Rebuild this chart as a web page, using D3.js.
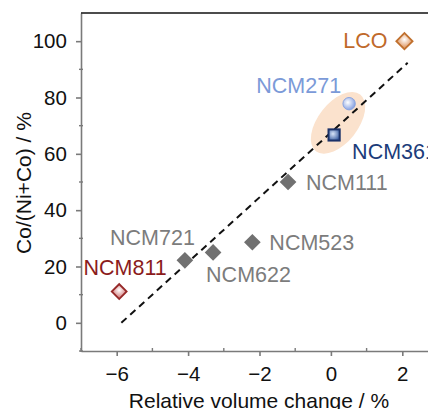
<!DOCTYPE html>
<html>
<head>
<meta charset="utf-8">
<script src="https://cdn.jsdelivr.net/npm/d3@7"></script>
<style>
    body { margin: 0; background: #fff; }
    svg { display: block; font-family: "Liberation Sans", Arial, sans-serif; }
    .axis path, .axis line { stroke: #7a7a7a; stroke-width: 1.6; }
    .axis text { font-size: 20.5px; fill: #111; }
</style>
</head>
<body>
<div class="chart"></div>
<script>
// materials, relative volume change (%) and Co/(Ni+Co) (%)
var names = ["LCO", "NCM271", "NCM361", "NCM111", "NCM523", "NCM622", "NCM721", "NCM811"];
var volChange = [2.06, 0.51, 0.09, -1.2, -2.2, -3.3, -4.09, -5.93];
var coRatio = [100, 77.8, 66.7, 50, 28.6, 25, 22.2, 11.1];

// dashed trend line ends
var fitX = [-5.87, 2.15];
var fitY = [0, 92.3];

// highlighted pair (ellipse centre)
var groupX = [0.2];
var groupY = [71];

var xTicks = [-6, -4, -2, 0, 2];
var xMinor = [-7, -5, -3, -1, 1, 3];
var yTicks = [0, 20, 40, 60, 80, 100];
var yMinor = [-10, 10, 30, 50, 70, 90];

function init() {
    var w = 428;
    var h = 409;
    var left = 81, top = 13, bottom = 351;

    var xScale = d3.scaleLinear().domain([-7, 3]).range([left, 438]);
    var yScale = d3.scaleLinear().domain([-10, 110]).range([bottom, top]);

    var svg = d3.select(".chart")
        .append("svg")
        .attr("width", w)
        .attr("height", h);

    var defs = svg.append("defs");
    function grad(id, inner, outer) {
        var g = defs.append("radialGradient").attr("id", id)
            .attr("cx", "40%").attr("cy", "40%").attr("r", "65%");
        g.append("stop").attr("offset", "0%").attr("stop-color", inner);
        g.append("stop").attr("offset", "100%").attr("stop-color", outer);
    }
    grad("gLCO", "#ffffff", "#e2a070");
    grad("g271", "#ffffff", "#7f9be0");
    grad("g361", "#d8e4f8", "#3a5da0");
    grad("g811", "#ffffff", "#d88a8a");

    // label style and placement
    var style = {
        "LCO":    { text: "#c0692a", mark: "diamond", size: 11.5, fill: "url(#gLCO)", stroke: "#c0702e", dx: -17, dy: 7, anchor: "end" },
        "NCM271": { text: "#7b9ad8", mark: "circle", fill: "url(#g271)", stroke: "#8aa4e0", dx: -8, dy: -11, anchor: "end" },
        "NCM361": { text: "#1c3c7a", mark: "square", fill: "url(#g361)", stroke: "#1b3168", dx: 18, dy: 24, anchor: "start" },
        "NCM111": { text: "#7c7c7c", mark: "diamond", size: 10, fill: "#717171", stroke: "#717171", dx: 18, dy: 8, anchor: "start" },
        "NCM523": { text: "#7c7c7c", mark: "diamond", size: 10, fill: "#717171", stroke: "#717171", dx: 17, dy: 8, anchor: "start" },
        "NCM622": { text: "#7c7c7c", mark: "diamond", size: 10, fill: "#717171", stroke: "#717171", dx: -7, dy: 30, anchor: "start" },
        "NCM721": { text: "#7c7c7c", mark: "diamond", size: 10, fill: "#717171", stroke: "#717171", dx: 10, dy: -15, anchor: "end" },
        "NCM811": { text: "#8b1c1c", mark: "diamond", size: 10.5, fill: "url(#g811)", stroke: "#962828", dx: 6, dy: -17, anchor: "middle" }
    };

    var dataset = names.map(function (n, i) {
        return { name: n, x: volChange[i], y: coRatio[i] };
    });

    // highlight ellipse
    svg.append("ellipse")
        .attr("cx", 0).attr("cy", 0)
        .attr("rx", 36).attr("ry", 20)
        .attr("transform", "translate(" + xScale(groupX[0]) + "," + yScale(groupY[0]) + ") rotate(-52)")
        .style("fill", "#fbe2cd");

    // dashed trend line
    var line = d3.line()
        .x(function (d) { return xScale(d[0]); })
        .y(function (d) { return yScale(d[1]); });
    svg.append("path")
        .datum(fitX.map(function (v, i) { return [v, fitY[i]]; }))
        .attr("d", line)
        .style("fill", "none")
        .style("stroke", "#111")
        .style("stroke-width", 2)
        .style("stroke-dasharray", "7,5");

    // axes
    var xAxis = d3.axisBottom(xScale).tickValues(xTicks).tickSize(5).tickSizeOuter(0)
        .tickFormat(function (d) { return d < 0 ? "\u2212" + Math.abs(d) : d; });
    var yAxis = d3.axisLeft(yScale).tickValues(yTicks).tickSize(5).tickSizeOuter(0);

    var gx = svg.append("g")
        .attr("class", "axis")
        .attr("transform", "translate(0," + bottom + ")")
        .call(xAxis);
    gx.selectAll("text").attr("dy", "1.05em");

    var gy = svg.append("g")
        .attr("class", "axis")
        .attr("transform", "translate(" + left + ",0)")
        .call(yAxis);
    gy.selectAll("text").attr("dx", "-0.3em");

    gx.selectAll(".minor").data(xMinor).enter().append("line")
        .attr("x1", function (d) { return xScale(d); })
        .attr("x2", function (d) { return xScale(d); })
        .attr("y1", -3).attr("y2", 1)
        .style("stroke", "#7a7a7a").style("stroke-width", 1.4);

    gy.selectAll(".minor").data(yMinor).enter().append("line")
        .attr("y1", function (d) { return yScale(d); })
        .attr("y2", function (d) { return yScale(d); })
        .attr("x1", -2).attr("x2", 2)
        .style("stroke", "#7a7a7a").style("stroke-width", 1.4);

    // top frame
    svg.append("line")
        .attr("x1", left).attr("x2", w)
        .attr("y1", top).attr("y2", top)
        .style("stroke", "#111").style("stroke-width", 1.6);

    // markers
    var pts = svg.selectAll(".pt").data(dataset).enter().append("g")
        .attr("transform", function (d) { return "translate(" + xScale(d.x) + "," + yScale(d.y) + ")"; });

    pts.each(function (d) {
        var s = style[d.name];
        var g = d3.select(this);
        if (s.mark === "circle") {
            g.append("circle").attr("r", 6.2)
                .style("fill", s.fill).style("stroke", s.stroke).style("stroke-width", 1);
        } else if (s.mark === "square") {
            g.append("rect").attr("x", -5.6).attr("y", -5.6).attr("width", 11.2).attr("height", 11.2)
                .style("fill", s.fill).style("stroke", s.stroke).style("stroke-width", 2);
        } else {
            g.append("rect").attr("x", -s.size / 2).attr("y", -s.size / 2)
                .attr("width", s.size).attr("height", s.size)
                .attr("transform", "rotate(45)")
                .style("fill", s.fill).style("stroke", s.stroke).style("stroke-width", 1.8);
        }
    });

    // labels
    svg.selectAll(".lbl").data(dataset).enter().append("text")
        .attr("x", function (d) { return xScale(d.x) + style[d.name].dx; })
        .attr("y", function (d) { return yScale(d.y) + style[d.name].dy; })
        .attr("text-anchor", function (d) { return style[d.name].anchor; })
        .style("font-size", "21.5px")
        .style("fill", function (d) { return style[d.name].text; })
        .text(function (d) { return d.name; });

    // axis titles
    svg.append("text")
        .attr("x", 259).attr("y", 408)
        .attr("text-anchor", "middle")
        .style("font-size", "21px").style("fill", "#111")
        .text("Relative volume change / %");

    svg.append("text")
        .attr("transform", "translate(31,183) rotate(-90)")
        .attr("text-anchor", "middle")
        .style("font-size", "21px").style("fill", "#111")
        .text("Co/(Ni+Co) / %");
}

init();
</script>
</body>
</html>
